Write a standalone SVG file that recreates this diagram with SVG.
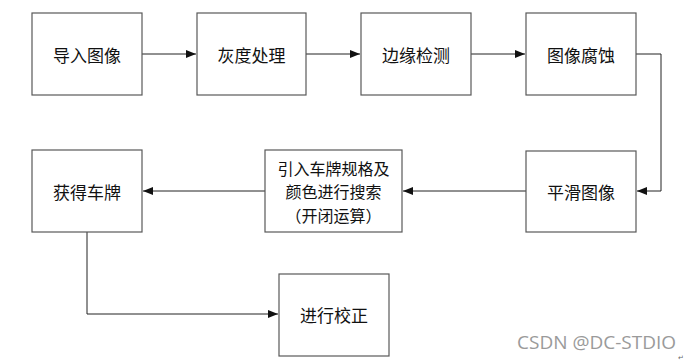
<svg xmlns="http://www.w3.org/2000/svg" width="691" height="361" viewBox="0 0 691 361">
<style>
.box{fill:#fff;stroke:#595959;stroke-width:1.2}
.t{font-family:"Noto Sans CJK SC","Microsoft YaHei",sans-serif;font-size:17px;fill:#111;text-anchor:middle;dominant-baseline:central}
.t2{font-size:16px}
.c{fill:none;stroke:#222;stroke-width:1}
.wm{font-family:"Open Sans","DejaVu Sans",sans-serif;font-size:19px;fill:#9a9a9a}
</style>
<defs>
<marker id="ah" viewBox="0 0 10 8" refX="10" refY="4" markerWidth="10" markerHeight="8" markerUnits="userSpaceOnUse" orient="auto">
<path d="M0,0 L10,4 L0,8 z" fill="#111"/>
</marker>
</defs>
<rect width="691" height="361" fill="#fff"/>
<g id="connectors">
<path class="c" d="M142,54 H196" marker-end="url(#ah)"/>
<path class="c" d="M306,54 H360" marker-end="url(#ah)"/>
<path class="c" d="M471,54 H525" marker-end="url(#ah)"/>
<path class="c" d="M636,54 H661 V191 H637" marker-end="url(#ah)"/>
<path class="c" d="M526,191 H403" marker-end="url(#ah)"/>
<path class="c" d="M265,191 H143" marker-end="url(#ah)"/>
<path class="c" d="M87,232 V314 H278" marker-end="url(#ah)"/>
</g>
<g id="n1"><rect class="box" x="32" y="13" width="110" height="82"/><text class="t" x="87" y="54">导入图像</text></g>
<g id="n2"><rect class="box" x="197" y="13" width="109" height="82"/><text class="t" x="251.5" y="54">灰度处理</text></g>
<g id="n3"><rect class="box" x="361" y="13" width="110" height="82"/><text class="t" x="416" y="54">边缘检测</text></g>
<g id="n4"><rect class="box" x="526" y="13" width="110" height="82"/><text class="t" x="581" y="54">图像腐蚀</text></g>
<g id="n5"><rect class="box" x="526" y="151" width="110" height="81"/><text class="t" x="581" y="191">平滑图像</text></g>
<g id="n6"><rect class="box" x="265" y="150" width="137" height="82"/>
<text class="t t2" x="333.5" y="167.5">引入车牌规格及</text>
<text class="t t2" x="333.5" y="191">颜色进行搜索</text>
<text class="t t2" x="333.5" y="214.5">（开闭运算）</text></g>
<g id="n7"><rect class="box" x="32" y="150" width="110" height="82"/><text class="t" x="87" y="191">获得车牌</text></g>
<g id="n8"><rect class="box" x="279" y="274" width="110" height="82"/><text class="t" x="334" y="314">进行校正</text></g>
<text class="wm" x="517" y="349">CSDN @DC-STDIO</text>
<text x="678" y="360" font-family="DejaVu Sans,sans-serif" font-size="7" fill="#666">↵</text>
</svg>
